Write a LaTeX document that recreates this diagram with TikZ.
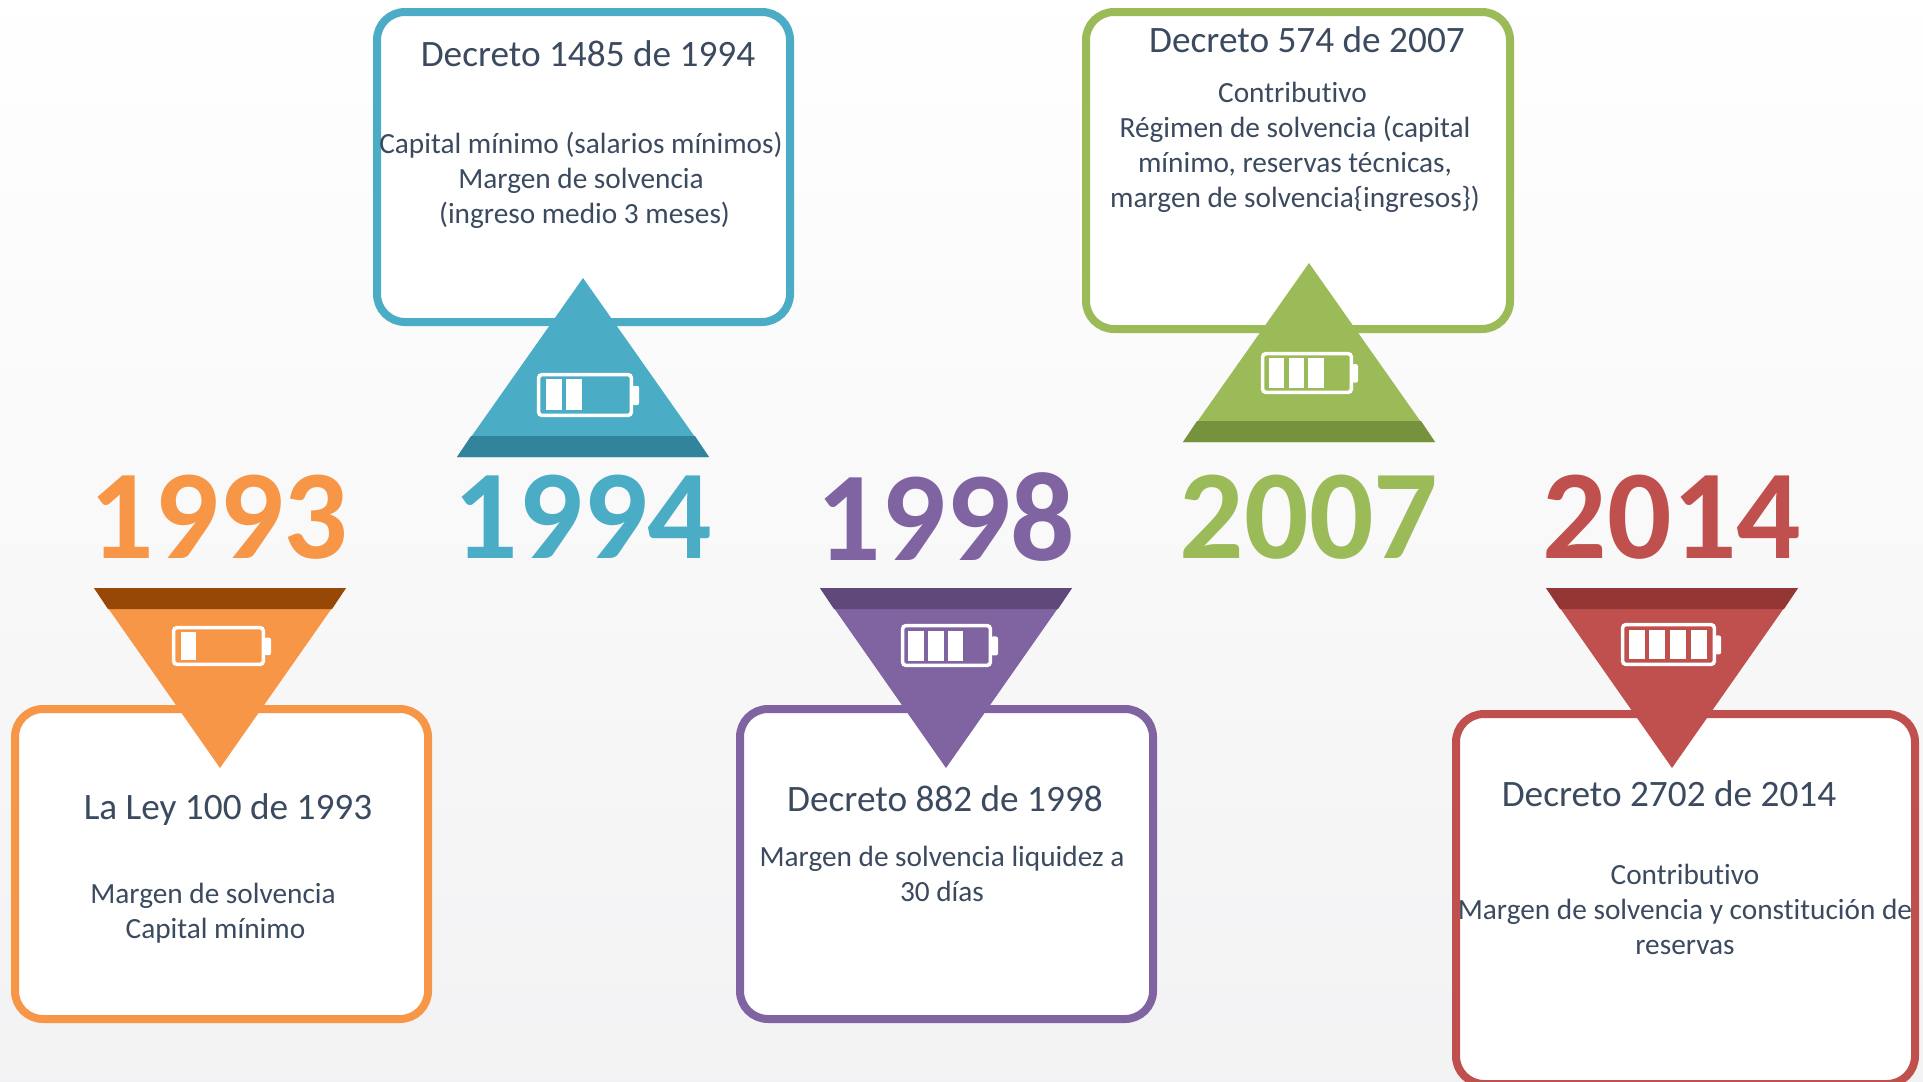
\documentclass[tikz,border=0pt]{standalone}
\usepackage{fontspec}
\setmainfont{Carlito}[Ligatures=NoCommon]
\definecolor{ink}{HTML}{3B4A5F}
\definecolor{cO}{HTML}{F79646}\definecolor{dO}{HTML}{974806}
\definecolor{cB}{HTML}{4BACC6}\definecolor{dB}{HTML}{31849B}
\definecolor{cP}{HTML}{8064A2}\definecolor{dP}{HTML}{5F497A}
\definecolor{cG}{HTML}{9BBB59}\definecolor{dG}{HTML}{76923C}
\definecolor{cR}{HTML}{C0504D}\definecolor{dR}{HTML}{943634}
\definecolor{bgend}{HTML}{EEEEF0}
\tikzset{
 x=0.01cm,y=-0.01cm,
 cardbox/.style={draw=#1,line width=8*0.01cm,fill=white,rounded corners=0.28cm},
 title/.style={text=ink,font=\fontsize{10.6pt}{12pt}\selectfont,inner sep=0pt,align=center},
 body/.style={text=ink,font=\fontsize{8.33pt}{9.95pt}\selectfont,inner sep=0pt,align=center},
 year/.style={text=#1,font=\fontsize{36.2pt}{40pt}\selectfont\bfseries,inner sep=0pt},
 shell/.style={draw=white,line width=3.5*0.01cm,rounded corners=0.03cm},
 cell/.style={fill=white,draw=none},
}
\newcommand{\tridown}[5]{%
 \fill[#1] (#5-126,#3) -- (#5+126,#3) -- (#5,#4) -- cycle;
 \fill[#2] (#5-126,#3) -- (#5+126,#3) -- (#5+112,#3+21) -- (#5-112,#3+21) -- cycle;}
\newcommand{\triup}[5]{%
 \fill[#1] (#5-126,#3) -- (#5+126,#3) -- (#5,#4) -- cycle;
 \fill[#2] (#5-126,#3) -- (#5+126,#3) -- (#5+112,#3-21) -- (#5-112,#3-21) -- cycle;}
\newcommand{\batt}[5]{%
 \fill[white,rounded corners=0.02cm] (#3-1,#2+0.29*#4-0.29*#2) rectangle (#5,#2+0.73*#4-0.73*#2);
 \draw[shell,fill=none] (#1+1.7,#2+1.7) rectangle (#3-1.7,#4-1.7);}
\begin{document}
\begin{tikzpicture}
\useasboundingbox (0,0) rectangle (1923,1081);
\begin{scope}
\clip (0,0) rectangle (1923,1081);
\fill[white] (0,0) rectangle (1923,1081);
\shade[top color=white,bottom color=bgend] (0,-30) rectangle (1923,1472);
\end{scope}
% cards
\draw[cardbox=cO] (15,709) rectangle (428,1019);
\draw[cardbox=cB] (377,12) rectangle (790,322);
\draw[cardbox=cP] (740,709) rectangle (1153,1019);
\draw[cardbox=cG] (1086,12) rectangle (1510,329);
\draw[cardbox=cR] (1456,714) rectangle (1915,1084);
% triangles
\tridown{cO}{dO}{588}{768}{220}
\triup{cB}{dB}{457}{278}{583}
\tridown{cP}{dP}{588}{768}{946}
\triup{cG}{dG}{442}{263}{1309}
\tridown{cR}{dR}{588}{768}{1672}
% batteries
\batt{172}{626}{265}{666}{271}
\fill[cell] (181,632) rectangle (196,660);
\batt{537}{373}{633}{417}{639}
\fill[cell] (545.5,379) rectangle (561.7,410);
\fill[cell] (566,379) rectangle (582,410);
\batt{901}{624}{992}{667}{998}
\fill[cell] (908,631) rectangle (924,661);
\fill[cell] (928,631) rectangle (944,661);
\fill[cell] (948,631) rectangle (963,661);
\batt{1261}{352}{1353}{394}{1358}
\fill[cell] (1269,358) rectangle (1284,388);
\fill[cell] (1289,358) rectangle (1304,388);
\fill[cell] (1308,358) rectangle (1324,388);
\batt{1621}{623}{1716}{666}{1721}
\fill[cell] (1629,630) rectangle (1645,659);
\fill[cell] (1649,630) rectangle (1665,659);
\fill[cell] (1670,630) rectangle (1686,659);
\fill[cell] (1691,630) rectangle (1707,659);
% years
\node[year=cO] (y93) at (219,517) {1993};
\node[year=cB] (y94) at (583,517) {1994};
\node[year=cP] (y98) at (946,517) {1998};
\node[year=cG] (y07) at (1309,517) {2007};
\node[year=cR] (y14) at (1672,517) {2014};
% titles
\node[title] (t93) at (228,810) {La Ley 100 de 1993};
\node[title] (t94) at (588,54) {Decreto 1485 de 1994};
\node[title] (t98) at (945,799) {Decreto 882 de 1998};
\node[title] (t07) at (1307,40) {Decreto 574 de 2007};
\node[title] (t14) at (1669,794) {Decreto 2702 de 2014};
% bodies
\node[body] (b93) at (213,913) {Margen de solvencia\\\hspace*{0.05cm}Capital mínimo};
\node[body] (b94) at (581,180) {Capital mínimo (salarios mínimos)\\Margen de solvencia\\\hspace*{0.07cm}(ingreso medio 3 meses)};
\node[body] (b98) at (942,874) {Margen de solvencia liquidez a\\30 días};
\node[body] (b07) at (1295,147) {Contributivo\hspace*{0.05cm}\\Régimen de solvencia (capital\\mínimo, reservas técnicas,\\margen de solvencia\{ingresos\})};
\node[body] (b14) at (1685,909) {Contributivo\\Margen de solvencia y constitución de\\reservas};
\end{tikzpicture}
\end{document}
